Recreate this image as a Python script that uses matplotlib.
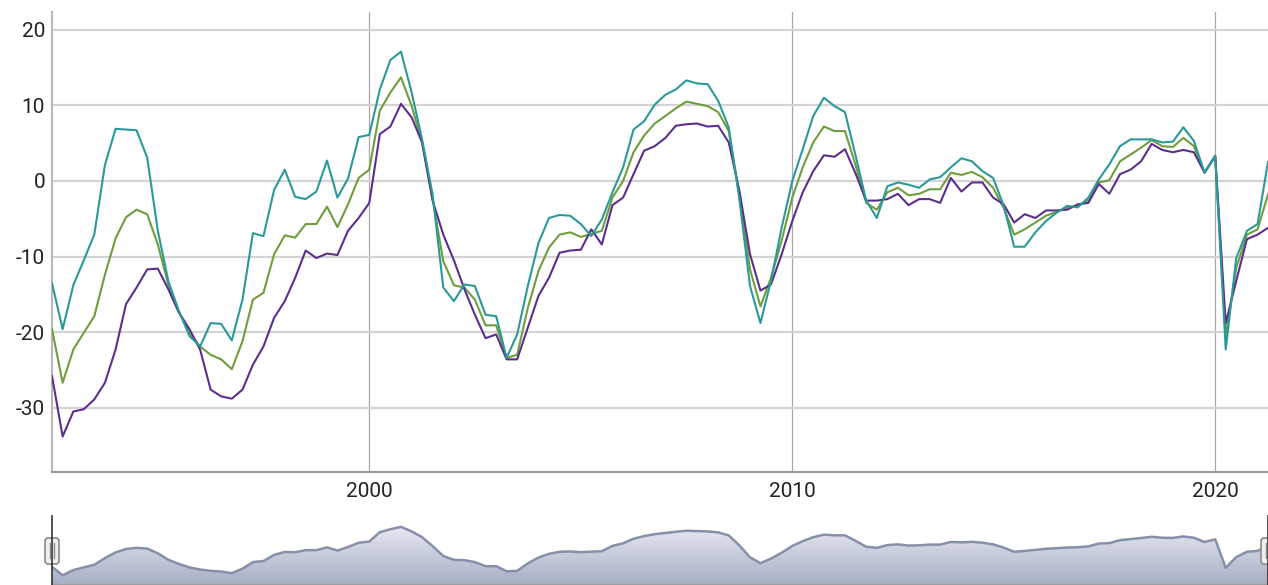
import numpy as np
import pandas as pd
import matplotlib
matplotlib.use('Agg')
import matplotlib.pyplot as plt
import matplotlib.dates as mdates
from matplotlib.colors import LinearSegmentedColormap
from matplotlib.patches import FancyBboxPatch
from matplotlib.lines import Line2D
from matplotlib.transforms import IdentityTransform

plt.rcParams['font.family'] = ['Roboto', 'DejaVu Sans']

# quarterly values, 1992 Q3 .. 2021 Q2
green = [-19.6, -26.7, -22.3, -20.1, -17.9, -12.4, -7.6, -4.8, -3.8, -4.4,
         -8.4, -13.7, -17.2, -20.1, -21.9, -23.0, -23.6, -24.9, -21.2, -15.7,
         -14.8, -9.7, -7.2, -7.5, -5.7, -5.7, -3.4, -6.1, -3.1, 0.4,
         1.5, 9.3, 11.7, 13.7, 9.9, 5.1, -2.4, -10.6, -13.8, -14.1,
         -15.7, -19.1, -19.1, -23.4, -23.0, -16.8, -11.9, -8.8, -7.1, -6.8,
         -7.4, -7.0, -6.6, -2.2, 0.0, 3.8, 6.0, 7.6, 8.6, 9.6,
         10.5, 10.2, 9.9, 9.1, 6.6, -1.8, -11.7, -16.6, -12.8, -7.9,
         -2.2, 1.8, 5.1, 7.2, 6.6, 6.6, 2.1, -2.9, -3.8, -1.5,
         -0.9, -1.9, -1.7, -1.1, -1.1, 1.1, 0.8, 1.2, 0.5, -0.9,
         -3.6, -7.1, -6.4, -5.5, -4.6, -4.1, -3.5, -3.3, -2.6, -0.2,
         0.1, 2.6, 3.5, 4.4, 5.4, 4.6, 4.5, 5.7, 4.6, 1.1,
         3.3, -20.5, -11.5, -7.1, -6.4, -1.8]
teal = [-13.5, -19.6, -13.8, -10.5, -7.1, 2.1, 6.9, 6.8, 6.7, 3.1,
        -6.6, -13.2, -17.2, -20.5, -21.9, -18.8, -18.9, -21.1, -15.7, -6.9,
        -7.3, -1.2, 1.5, -2.1, -2.4, -1.4, 2.7, -2.2, 0.3, 5.8,
        6.1, 12.1, 16.0, 17.1, 11.7, 5.5, -1.8, -14.1, -15.9, -13.7,
        -13.9, -17.7, -17.9, -23.4, -20.3, -13.9, -8.2, -4.9, -4.5, -4.6,
        -5.7, -7.3, -5.1, -1.5, 1.8, 6.8, 7.9, 10.1, 11.4, 12.1,
        13.3, 12.9, 12.8, 10.6, 7.1, -2.4, -13.9, -18.8, -13.2, -6.2,
        0.0, 4.2, 8.6, 11.0, 9.9, 9.1, 3.4, -2.6, -4.9, -0.7,
        -0.2, -0.5, -0.9, 0.2, 0.5, 1.8, 3.0, 2.6, 1.3, 0.4,
        -3.3, -8.7, -8.7, -6.8, -5.3, -4.2, -3.3, -3.5, -2.2, 0.2,
        2.2, 4.6, 5.5, 5.5, 5.5, 5.1, 5.2, 7.1, 5.3, 1.1,
        3.3, -22.3, -10.2, -6.6, -5.7, 2.5]
purple = [-25.8, -33.8, -30.5, -30.2, -28.9, -26.7, -22.3, -16.3, -14.1, -11.7,
          -11.6, -14.3, -17.4, -19.6, -22.3, -27.6, -28.5, -28.8, -27.6, -24.3,
          -21.9, -18.1, -15.9, -12.8, -9.2, -10.2, -9.6, -9.8, -6.6, -4.9,
          -2.9, 6.2, 7.2, 10.2, 8.4, 5.1, -2.6, -7.1, -10.5, -14.3,
          -17.7, -20.8, -20.3, -23.6, -23.6, -19.4, -15.2, -12.8, -9.5, -9.2,
          -9.1, -6.4, -8.4, -3.2, -2.2, 0.9, 4.0, 4.6, 5.7, 7.3,
          7.5, 7.6, 7.2, 7.3, 5.1, -1.3, -9.7, -14.5, -13.7, -9.7,
          -5.3, -1.5, 1.3, 3.4, 3.2, 4.2, 1.0, -2.6, -2.6, -2.4,
          -1.7, -3.2, -2.4, -2.4, -2.9, 0.4, -1.4, -0.2, -0.2, -2.2,
          -3.1, -5.5, -4.4, -4.9, -3.9, -3.9, -3.8, -3.1, -2.9, -0.4,
          -1.7, 0.9, 1.5, 2.6, 4.9, 4.1, 3.8, 4.1, 3.8, 1.1,
          3.3, -18.8, -13.2, -7.7, -7.1, -6.2]
dates = pd.date_range('1992-07-01', periods=len(green), freq='QS')
year_ticks = ['2000', '2010', '2020']
y_ticks = [-30, -20, -10, 0, 10, 20]

W, H = 1268, 585
fig = plt.figure(figsize=(W / 100, H / 100), dpi=100)

# main chart
ax = fig.add_axes([52 / W, 1 - 472 / H, 1216 / W, 460 / H])
ax.plot(dates, green, color='#6f9e3c', lw=1.5, zorder=3)
ax.plot(dates, purple, color='#5b2f8e', lw=1.5, zorder=3)
ax.plot(dates, teal, color='#2a9a98', lw=1.5, zorder=3)
ax.set_xlim(dates[0], dates[-1])
ax.set_ylim(-38.5, 22.35)
ax.set_yticks(y_ticks)
ax.set_yticklabels([str(v) for v in y_ticks])
ax.set_xticks([pd.Timestamp(y + '-01-01') for y in year_ticks])
ax.set_xticklabels(year_ticks)
ax.grid(axis='y', color='#d4d4d4', lw=1.6)
ax.grid(axis='x', color='#a8a8a8', lw=0.9)
ax.set_axisbelow(True)
for s in ['top', 'right']:
    ax.spines[s].set_visible(False)
ax.spines['left'].set_color('#b8b8b8')
ax.spines['left'].set_linewidth(1.5)
ax.spines['bottom'].set_color('#9a9a9a')
ax.spines['bottom'].set_linewidth(1.5)
ax.tick_params(axis='y', length=0, pad=5, labelsize=15, labelcolor='#222222')
ax.tick_params(axis='x', length=0, pad=7, labelsize=15, labelcolor='#222222')

# navigator
nav = fig.add_axes([52 / W, 0, 1216 / W, 70 / H])
nav.set_xlim(dates[0], dates[-1])
nav.set_ylim(-34.8, 23.6)
poly = nav.fill_between(dates, green, -40, facecolor='none', edgecolor='none')
cmap = LinearSegmentedColormap.from_list('nav', ['#f3f4f8', '#a6aec5'])
grad = np.linspace(0, 1, 256).reshape(-1, 1)
x0 = mdates.date2num(dates[0])
x1 = mdates.date2num(dates[-1])
im = nav.imshow(grad, extent=[x0, x1, -34.8, 23.6], aspect='auto', cmap=cmap,
                origin='upper', zorder=1)
im.set_clip_path(poly.get_paths()[0], transform=nav.transData)
nav.plot(dates, green, color='#8790aa', lw=1.8, zorder=2)
nav.set_xticks([])
nav.set_yticks([])
for s in ['top', 'right', 'left']:
    nav.spines[s].set_visible(False)
nav.spines['bottom'].set_color('#9a9a9a')
nav.spines['bottom'].set_linewidth(1.2)

# navigator handles
for hx in [52, 1268]:
    fig.add_artist(Line2D([hx, hx], [0, 585 - 516], color='#333333', lw=1.2,
                          transform=IdentityTransform()))
    fig.add_artist(FancyBboxPatch((hx - 7, 585 - 564), 14, 26,
                                  boxstyle='round,pad=0,rounding_size=3',
                                  facecolor='#f0f0f0', edgecolor='#8a8a8a', lw=1.2,
                                  transform=IdentityTransform()))
    for dx in [-2, 2]:
        fig.add_artist(Line2D([hx + dx, hx + dx], [585 - 558, 585 - 543],
                              color='#8a8a8a', lw=1.0, transform=IdentityTransform()))

fig.savefig('out.png', dpi=100)
